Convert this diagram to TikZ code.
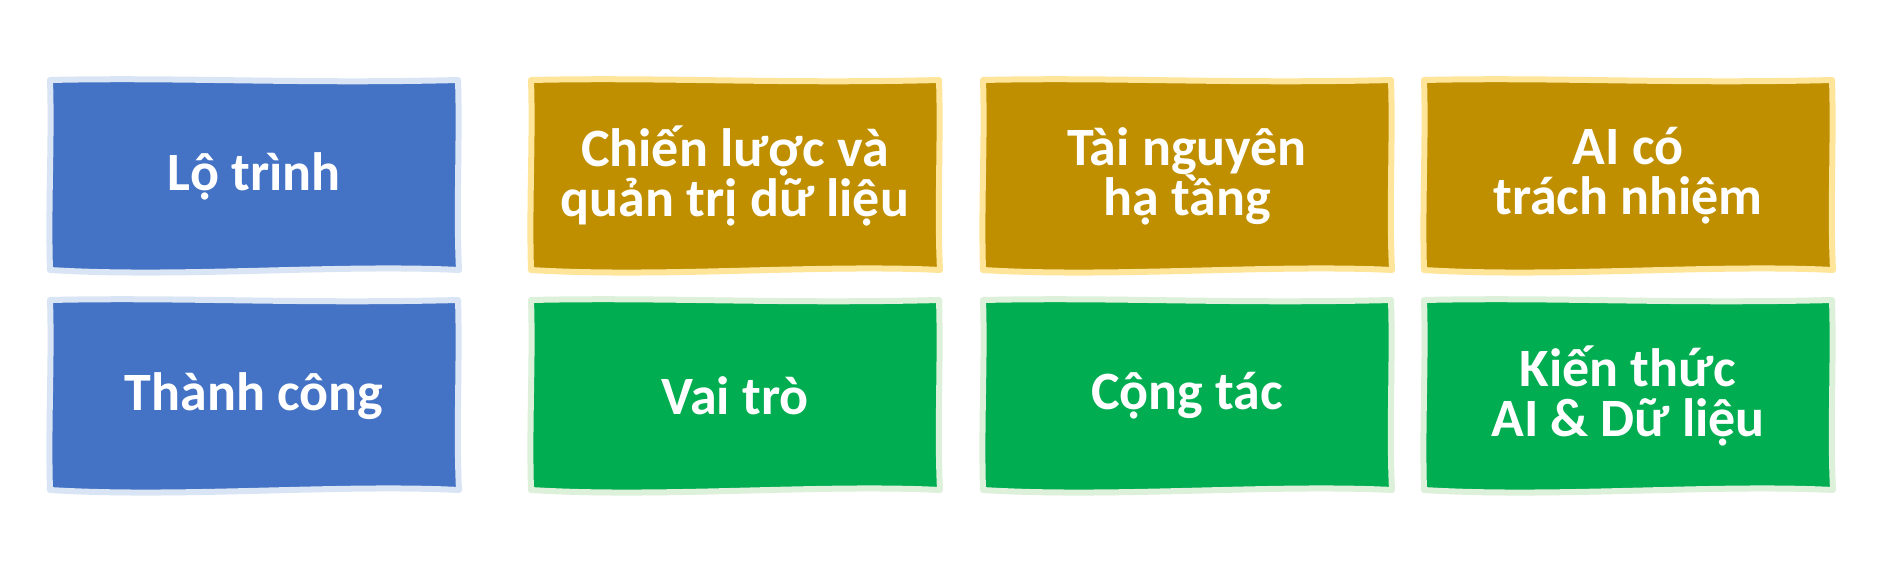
\documentclass[tikz,border=0pt]{standalone}
\usepackage{fontspec}
\setmainfont{Carlito}
\definecolor{bfill}{HTML}{4472C4}
\definecolor{bline}{HTML}{D9E5F5}
\definecolor{gfill}{HTML}{BF8F00}
\definecolor{gline}{HTML}{FFE59A}
\definecolor{nfill}{HTML}{00AD50}
\definecolor{nline}{HTML}{DCF0DA}
\tikzset{
  bluebox/.style={fill=bfill,draw=bline,line width=6pt,line join=round},
  goldbox/.style={fill=gfill,draw=gline,line width=6pt,line join=round},
  greenbox/.style={fill=nfill,draw=nline,line width=6pt,line join=round},
  txt/.style={text=white,align=center,font=\bfseries\fontsize{54}{50}\selectfont,inner sep=0pt}
}
\newcommand\wavybox[5]{%
\begin{scope}[shift={(#1,#2)}]
 \filldraw[#3] (0,0) .. controls (130,-3) and (250,4) .. (408,0)
   .. controls (410,60) and (406,130) .. (409,190)
   .. controls (290,184) and (130,198) .. (0,190)
   .. controls (-2,125) and (2,60) .. cycle;
 \node[txt] (#4) at (204,96) {#5};
\end{scope}}
\begin{document}
\begin{tikzpicture}[x=1pt,y=-1pt]
\useasboundingbox[fill=white] (0,0) rectangle (1904,560);
\wavybox{50}{80}{bluebox}{lotrinh}{Lộ trình}
\wavybox{531}{80}{goldbox}{chienluoc}{Chiến lược và\\quản trị dữ liệu}
\wavybox{983}{80}{goldbox}{tainguyen}{Tài nguyên\\hạ tầng}
\wavybox{1424}{80}{goldbox}{aico}{AI có\\trách nhiệm}
\wavybox{50}{300}{bluebox}{thanhcong}{Thành công}
\wavybox{531}{300}{greenbox}{vaitro}{Vai trò}
\wavybox{983}{300}{greenbox}{congtac}{Cộng tác}
\wavybox{1424}{300}{greenbox}{kienthuc}{Kiến thức\\AI \& Dữ liệu}
\end{tikzpicture}
\end{document}
